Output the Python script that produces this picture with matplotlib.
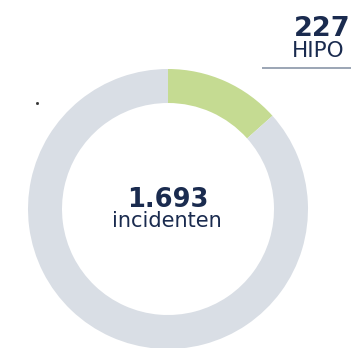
import matplotlib.pyplot as plt

# incident counts
total_incidents = 1693
hipo_incidents = 227
segment_values = [hipo_incidents, total_incidents - hipo_incidents]
segment_colors = ["#C5DB92", "#D9DEE5"]

NAVY = "#1A2B4F"
W, H = 351, 348

fig = plt.figure(figsize=(W / 100, H / 100), dpi=100)
ax = fig.add_axes([0, 0, 1, 1])

# donut, starting at 12 o'clock, clockwise
ax.pie(
    segment_values,
    colors=segment_colors,
    startangle=90,
    counterclock=False,
    center=(168, H - 209),
    radius=140,
    wedgeprops=dict(width=34, edgecolor="none"),
    frame=True,
)
ax.set_xlim(0, W)
ax.set_ylim(0, H)
ax.set_aspect("equal")
ax.axis("off")

fmt_total = f"{total_incidents:,}".replace(",", ".")
ax.text(168, H - 207, fmt_total, ha="center", va="baseline",
        fontsize=18.5, fontweight="heavy", color=NAVY, family="DejaVu Sans")
ax.text(167, H - 227, "incidenten", ha="center", va="baseline",
        fontsize=15, color=NAVY, family="DejaVu Sans")

# callout label top right, running off the edge
ax.text(294, H - 36, str(hipo_incidents), ha="left", va="baseline",
        fontsize=19.5, fontweight="heavy", color=NAVY, family="DejaVu Sans")
ax.text(292, H - 57, "HIPO", ha="left", va="baseline",
        fontsize=15.5, color=NAVY, family="DejaVu Sans")
ax.plot([262, W], [H - 67.5, H - 67.5], color="#8A96A8", linewidth=1.2,
        solid_capstyle="butt")

ax.plot([37], [H - 103], marker="s", markersize=1, color="#333333")

fig.savefig("out.png", dpi=100, facecolor="white")
